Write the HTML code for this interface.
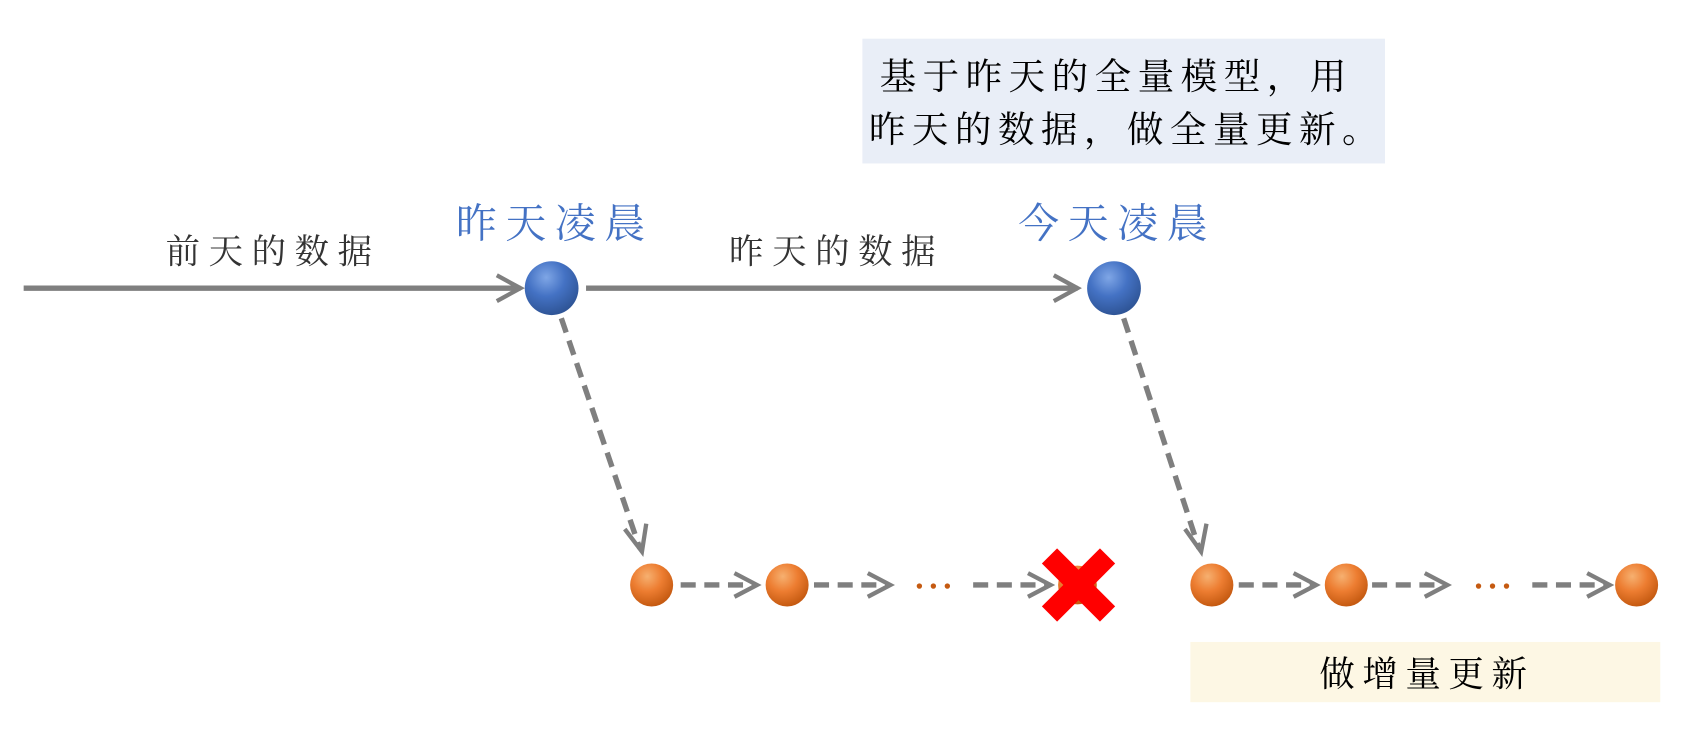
<!DOCTYPE html>
<html><head><meta charset="utf-8"><style>
html,body{margin:0;padding:0;background:#fff;}
body{width:1686px;height:745px;position:relative;overflow:hidden;font-family:"Noto Serif CJK SC","Noto Serif CJK TC",serif;}
#w{position:absolute;left:0;top:0;width:1568px;height:693px;transform:scale(1.0753);transform-origin:0 0;}
.t{position:absolute;white-space:nowrap;line-height:1;}
</style></head><body><div id="w">
<svg width="1568" height="693" style="position:absolute;left:0;top:0">
<defs>
<radialGradient id="b" cx="40%" cy="30%" r="70%"><stop offset="0" stop-color="#7fa6e6"/><stop offset="0.5" stop-color="#4472c4"/><stop offset="1" stop-color="#2f5597"/></radialGradient>
<radialGradient id="o" cx="40%" cy="30%" r="70%"><stop offset="0" stop-color="#f6b070"/><stop offset="0.5" stop-color="#ed7d31"/><stop offset="1" stop-color="#c55a11"/></radialGradient>
</defs>
<rect x="802" y="36" width="486" height="116" fill="#e9eef7"/>
<rect x="1107" y="597" width="437" height="56" fill="#fdf7e4"/>
<g stroke="#7f7f7f" stroke-width="5" fill="none">
<line x1="22" y1="268" x2="484" y2="268"/>
<polyline points="462,256 484,268 462,280" stroke-width="4"/>
<line x1="545" y1="268" x2="1002" y2="268"/>
<polyline points="980,256 1002,268 980,280" stroke-width="4"/>
<g stroke-dasharray="14,8">
<line x1="522" y1="296" x2="595" y2="510"/>
<line x1="1045" y1="296" x2="1115" y2="510"/>
<line x1="633" y1="544" x2="702" y2="544"/>
<line x1="757" y1="544" x2="826" y2="544"/>
<line x1="905" y1="544" x2="975" y2="544"/>
<line x1="1152" y1="544" x2="1222" y2="544"/>
<line x1="1276" y1="544" x2="1344" y2="544"/>
<line x1="1425" y1="544" x2="1495" y2="544"/>
</g>
<g stroke-width="4">
<polyline points="581,492 597,513 601,487"/>
<polyline points="1102,492 1117,513 1122,487"/>
<polyline points="683,533 704,544 683,555"/>
<polyline points="807,533 828,544 807,555"/>
<polyline points="956,533 977,544 956,555"/>
<polyline points="1203,533 1224,544 1203,555"/>
<polyline points="1325,533 1346,544 1325,555"/>
<polyline points="1476,533 1497,544 1476,555"/>
</g>
</g>
<circle cx="513" cy="268" r="25" fill="url(#b)"/>
<circle cx="1036" cy="268" r="25" fill="url(#b)"/>
<circle cx="606" cy="544" r="20" fill="url(#o)"/>
<circle cx="732" cy="544" r="20" fill="url(#o)"/>
<circle cx="1002" cy="544" r="18" fill="url(#o)"/>
<circle cx="1127" cy="544" r="20" fill="url(#o)"/>
<circle cx="1252" cy="544" r="20" fill="url(#o)"/>
<circle cx="1522" cy="544" r="20" fill="url(#o)"/>
<g fill="#c55a11">
<circle cx="855" cy="545" r="2.5"/><circle cx="868" cy="545" r="2.5"/><circle cx="881" cy="545" r="2.5"/>
<circle cx="1375" cy="545" r="2.5"/><circle cx="1388" cy="545" r="2.5"/><circle cx="1401" cy="545" r="2.5"/>
</g>
<g stroke="#ff0000" stroke-width="20">
<line x1="976" y1="517" x2="1030" y2="571"/>
<line x1="1030" y1="517" x2="976" y2="571"/>
</g>
</svg>
<div class="t" style="left:154px;top:216px;font-size:32px;color:#333;letter-spacing:8px">前天的数据</div>
<div class="t" style="left:678px;top:216px;font-size:32px;color:#333;letter-spacing:8px">昨天的数据</div>
<div class="t" style="left:424px;top:186px;font-size:38px;color:#4472c4;letter-spacing:8px">昨天凌晨</div>
<div class="t" style="left:947px;top:186px;font-size:38px;color:#4472c4;letter-spacing:8px">今天凌晨</div>
<div class="t" style="left:818px;top:52px;font-size:34px;color:#000;letter-spacing:6px">基于昨天的全量模型，用</div>
<div class="t" style="left:808px;top:101px;font-size:34px;color:#000;letter-spacing:6px">昨天的数据，做全量更新。</div>
<div class="t" style="left:1227px;top:608px;font-size:33px;color:#000;letter-spacing:7px">做增量更新</div>
</div></body></html>
